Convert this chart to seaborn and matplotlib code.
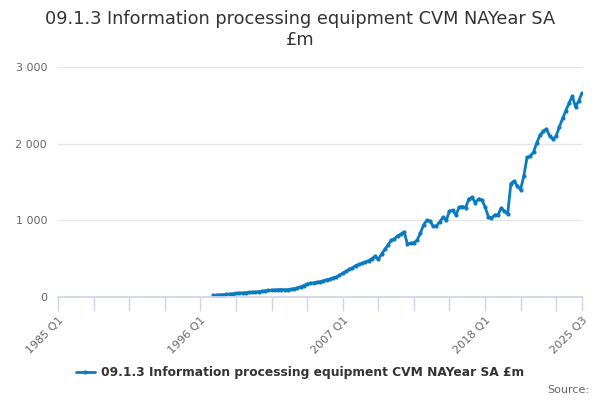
import matplotlib
matplotlib.use("Agg")
import matplotlib.pyplot as plt
import seaborn as sns
import pandas as pd

# quarterly series, 1985 Q1 .. 2025 Q3 axis; data from 1997 Q1
first_year = 1985
start_idx = 48   # 1997 Q1
values = [
    22, 25, 28, 30, 35, 38, 42, 46, 50, 53, 56, 60, 62, 66, 70, 74,
    80, 85, 90, 92, 95, 97, 95, 96, 100, 110, 120, 132, 150, 170, 178, 185,
    192, 200, 212, 225, 232, 250, 260, 285, 310, 335, 360, 380, 410, 425, 440, 455,
    475, 500, 530, 490, 560, 620, 680, 740, 760, 800, 820, 850, 690, 700, 710, 740,
    830, 940, 1000, 990, 920, 930, 980, 1040, 1000, 1120, 1130, 1070, 1170, 1180, 1165, 1280,
    1300, 1230, 1280, 1265, 1180, 1050, 1030, 1070, 1070, 1160, 1120, 1080, 1480, 1510, 1450, 1400,
    1580, 1820, 1840, 1890, 2010, 2110, 2160, 2190, 2100, 2060, 2100, 2220, 2330, 2430, 2530, 2620,
    2480, 2560, 2660,
]
n_quarters = 163
series_name = "09.1.3 Information processing equipment CVM NAYear SA £m"
title = "09.1.3 Information processing equipment CVM NAYear SA\n£m"

quarters = [f"{first_year + i // 4} Q{i % 4 + 1}" for i in range(n_quarters)]
df = pd.DataFrame({"idx": range(start_idx, start_idx + len(values)), "value": values})

sns.set_theme(style="white")
plt.rcParams['font.family'] = ['DejaVu Sans']

fig = plt.figure(figsize=(6, 4), dpi=100)
ax = fig.add_axes([0.097, 0.2575, 0.873, 0.575])

sns.lineplot(data=df, x="idx", y="value", ax=ax, color="#0a7bc1", linewidth=2,
             marker="o", markersize=3, markeredgewidth=0, label=series_name)

ax.set_xlim(0, n_quarters - 1)
ax.set_ylim(0, 3000)
ax.set_yticks([0, 1000, 2000, 3000])
ax.set_yticklabels(["0", "1 000", "2 000", "3 000"], color="#666666", fontsize=8)
ax.yaxis.grid(True, color="#e6e6e6", linewidth=1)
ax.tick_params(axis="y", length=0, pad=8)

ticks = list(range(0, n_quarters, 11)) + [n_quarters - 1]
label_pos = {0, 44, 88, 132, n_quarters - 1}
ax.set_xticks(ticks)
ax.set_xticklabels([quarters[t] if t in label_pos else "" for t in ticks],
                   rotation=45, ha="right", rotation_mode="anchor",
                   color="#666666", fontsize=8)
ax.tick_params(axis="x", bottom=True, length=10, width=1, color="#ccd6eb",
               direction="out", pad=3)
ax.set_xlabel("")
ax.set_ylabel("")

for s in ["left", "right", "top"]:
    ax.spines[s].set_visible(False)
ax.spines["bottom"].set_color("#ccd6eb")

fig.suptitle(title, fontsize=12.8, color="#333333", y=0.975)

leg = ax.legend(loc="center", bbox_to_anchor=(0.5, 0.068), bbox_transform=fig.transFigure,
                frameon=False, fontsize=8.8, handlelength=1.6, handletextpad=0.5)
for t in leg.get_texts():
    t.set_color("#333333")
    t.set_fontweight("bold")

fig.text(0.982, 0.012, "Source:", ha="right", va="bottom", fontsize=8, color="#666666")

fig.savefig("out.png", dpi=100)
